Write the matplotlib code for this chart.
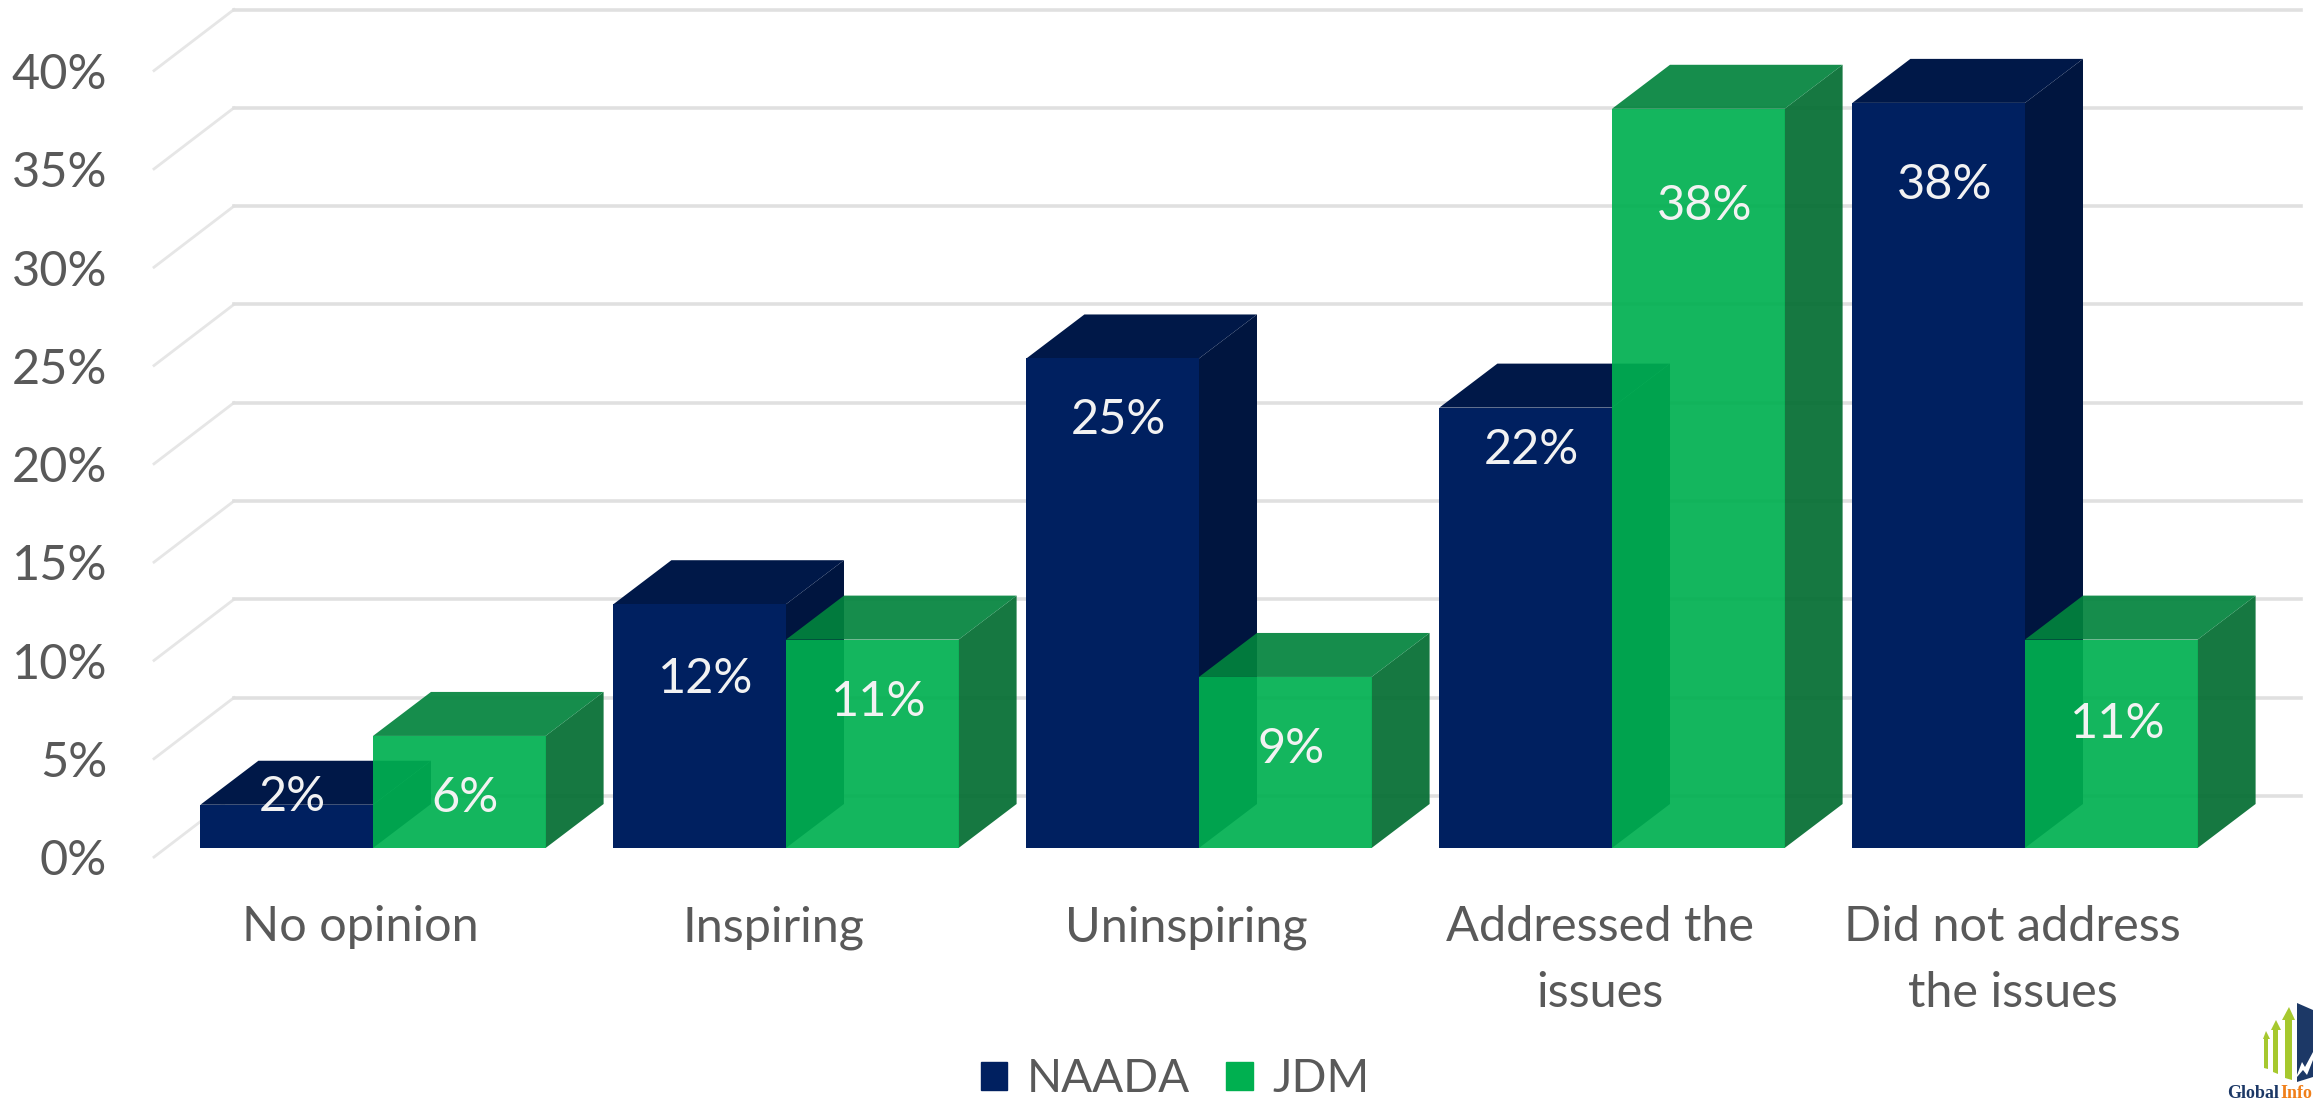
import matplotlib
matplotlib.use('Agg')
import matplotlib.pyplot as plt
from matplotlib.patches import Polygon, Patch

plt.rcParams['font.family'] = ['Lato', 'DejaVu Sans']

categories = ['No opinion', 'Inspiring', 'Uninspiring', 'Addressed the\nissues', 'Did not address\nthe issues']
naada = [2.2, 12.4, 24.9, 22.4, 37.9]
jdm = [5.7, 10.6, 8.7, 37.6, 10.6]
y_ticks = [0, 5, 10, 15, 20, 25, 30, 35, 40]

# how far the labels sit below the bar top, in pixels
naada_drop = [-8, 75, 62, 42, 82]
jdm_drop = [62, 62, 72, 97, 84]

W, H = 2313, 1102
px_cat = 413.0
px_pct = 19.66
x0 = 373.0
base = 848.0

bar_w = 172.6 / px_cat
dx = 58 / px_cat
dy = 44 / px_pct

fig = plt.figure(figsize=(W / 100, H / 100), dpi=100)
ax = fig.add_axes([0, 0, 1, 1])
ax.set_xlim(-x0 / px_cat, (W - x0) / px_cat)
ax.set_ylim(-(H - base) / px_pct, base / px_pct)
ax.axis('off')

# back wall grid and the slanted side lines
wall_x0 = (154 - x0) / px_cat
wall_x1 = (234 - x0) / px_cat
wall_x2 = (2301 - x0) / px_cat
for t in y_ticks:
    ax.plot([wall_x0, wall_x1], [t - 0.46, t + 2.65], color='#e6e6e6', lw=2.0, zorder=1)
    ax.plot([wall_x1, wall_x2], [t + 2.65, t + 2.65], color='#e0e0e0', lw=2.6, zorder=1)
    ax.text(-0.644, t - 0.68, f'{t}%', ha='right', va='center', fontsize=35, color='#595959')


def draw_bar(x, v, front, top, side, alpha, z):
    ax.add_patch(Polygon([(x + bar_w, 0), (x + bar_w + dx, dy), (x + bar_w + dx, v + dy), (x + bar_w, v)],
                         fc=side, ec='none', alpha=alpha, zorder=z))
    ax.add_patch(Polygon([(x, v), (x + dx, v + dy), (x + bar_w + dx, v + dy), (x + bar_w, v)],
                         fc=top, ec='none', alpha=alpha, zorder=z))
    ax.bar(x, v, width=bar_w, align='edge', color=front, alpha=alpha, zorder=z)


for i in range(len(categories)):
    draw_bar(i - bar_w, naada[i], '#002060', '#001848', '#00153f', 1.0, 3)
for i in range(len(categories)):
    draw_bar(i, jdm[i], '#00b050', '#02833d', '#026d31', 0.92, 4)

for i in range(len(categories)):
    ax.annotate(f'{naada[i]:.0f}%', (i - bar_w / 2 + 0.0145, naada[i]), xytext=(0, -naada_drop[i]),
                textcoords='offset pixels', ha='center', va='center', fontsize=35, color='#f2f2f2', zorder=6)
    ax.annotate(f'{jdm[i]:.0f}%', (i + bar_w / 2 + 0.0145, jdm[i]), xytext=(0, -jdm_drop[i]),
                textcoords='offset pixels', ha='center', va='center', fontsize=35, color='#f2f2f2', zorder=6)
    ax.text(i - 0.03, -2.9, categories[i], ha='center', va='top', fontsize=35, color='#595959', linespacing=1.6)

handles = [Patch(color='#002060', label='NAADA'), Patch(color='#00b050', label='JDM')]
ax.legend(handles=handles, loc='lower center', bbox_to_anchor=(0.508, -0.036), ncol=2, frameon=False,
          fontsize=33, labelcolor='#595959', handlelength=0.58, handleheight=0.58, handletextpad=0.42,
          columnspacing=0.8)

# logo in the corner, cut off by the edge like the original
logo = fig.add_axes([2150 / W, 0, 163 / W, 122 / H])
logo.set_xlim(0, 163)
logo.set_ylim(122, 0)
logo.axis('off')
arrows = [
    [(114, 59), (114, 88), (118, 89), (118, 59), (120, 59), (116, 51), (113, 59)],
    [(123, 50), (123, 92), (128, 94), (128, 50), (131, 50), (126, 40), (121, 50)],
    [(135, 40), (135, 98), (142, 100), (142, 40), (145, 40), (139, 27), (132, 40)],
]
for a in arrows:
    logo.add_patch(Polygon(a, fc='#a6c82e', ec='none'))
logo.add_patch(Polygon([(147, 23), (163, 30), (163, 97), (147, 102)], fc='#1c3866', ec='none'))
logo.add_patch(Polygon([(147, 95), (152, 82), (155, 87), (163, 72), (163, 80), (157, 95), (153, 90), (147, 97)],
                       fc='white', ec='none'))
logo.text(77, 113, 'Global', fontsize=13, family='Liberation Serif', weight='bold', color='#1c3866', va='center')
logo.text(130, 113, 'Info', fontsize=13, family='Liberation Serif', weight='bold', color='#f07f1a', va='center')

fig.savefig('out.png', dpi=100)
